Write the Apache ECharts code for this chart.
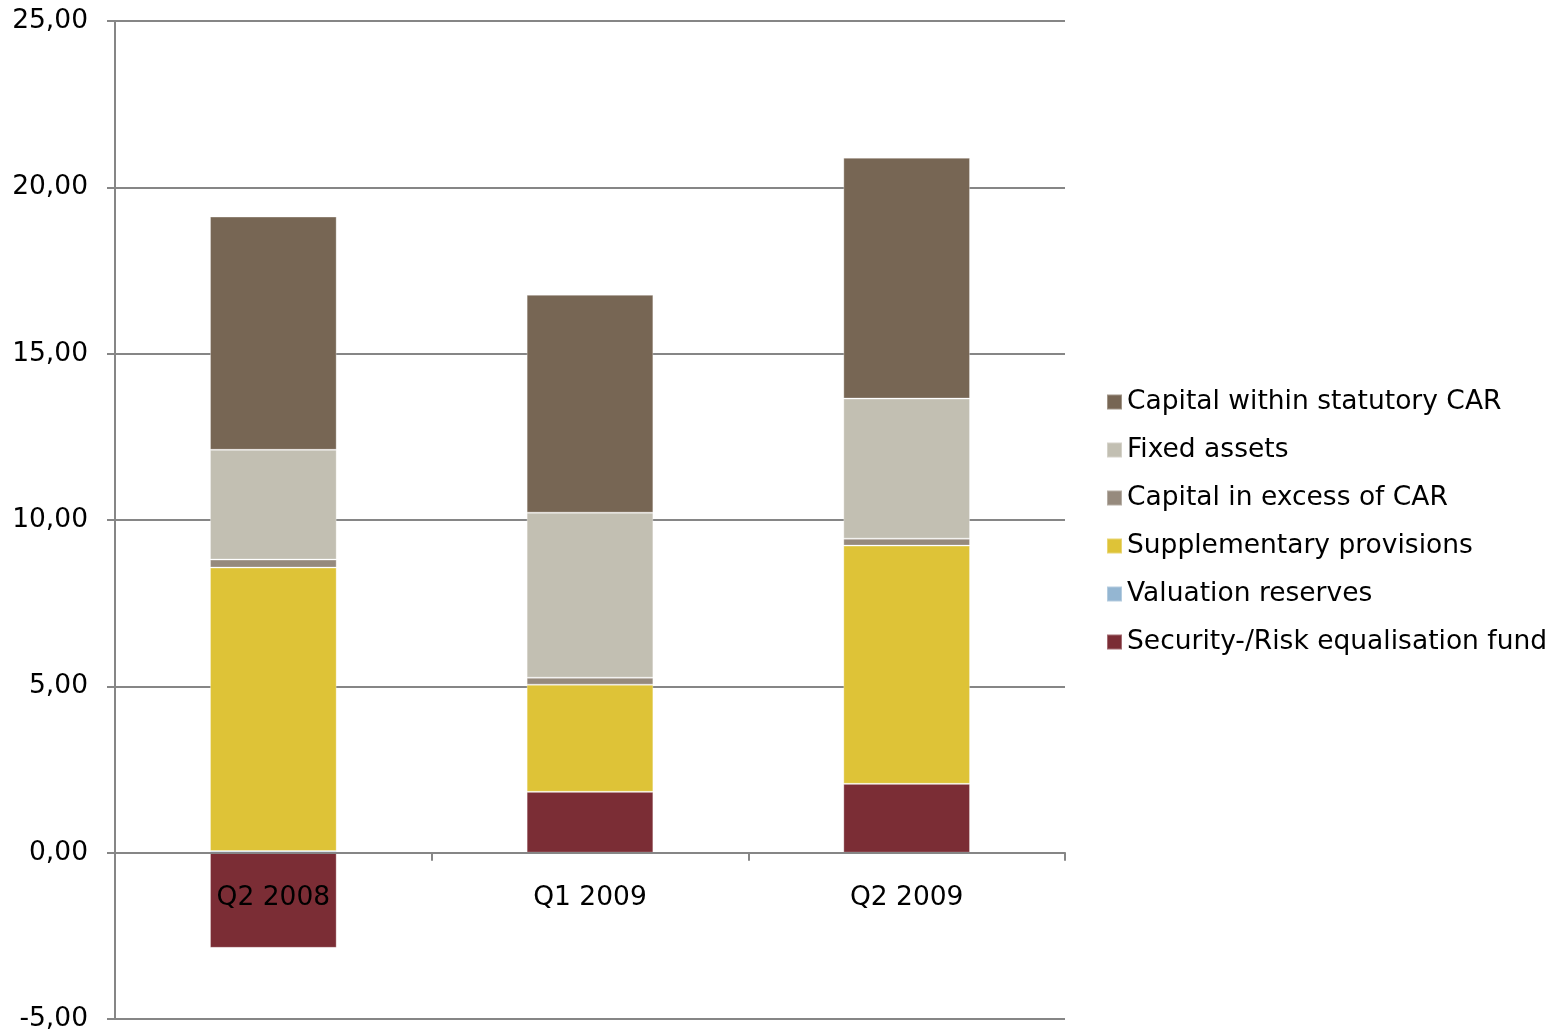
<!DOCTYPE html>
<html>
<head>
<meta charset="utf-8">
<script src="https://cdn.jsdelivr.net/npm/echarts@6/dist/echarts.min.js"></script>
<style>
  html, body { margin: 0; padding: 0; background: #fff; }
  #chart { width: 1568px; height: 1036px; }
</style>
</head>
<body>
<div id="chart"></div>
<script>
// Quarters on the category axis
const categories = ['Q2 2008', 'Q1 2009', 'Q2 2009'];

// Stacked components (bottom to top)
const securityFund   = [-2.86, 1.83, 2.07];
const valuationRes   = [0.05, 0.00, 0.00];
const supplementary  = [8.52, 3.22, 7.16];
const excessCapital  = [0.24, 0.21, 0.21];
const fixedAssets    = [3.30, 4.96, 4.21];
const capitalWithin  = [7.01, 6.55, 7.24];

const seriesNames = [
  'Security-/Risk equalisation fund',
  'Valuation reserves',
  'Supplementary provisions',
  'Capital in excess of CAR',
  'Fixed assets',
  'Capital within statutory CAR'
];
const seriesData = [securityFund, valuationRes, supplementary, excessCapital, fixedAssets, capitalWithin];
const seriesColors = ['#7B2D35', '#94B6D2', '#DEC337', '#968A7D', '#C2BFB2', '#776654'];

const FONT = 'DejaVu Sans, Verdana, sans-serif';
const FS = 26.5;

const chart = echarts.init(document.getElementById('chart'), null, { renderer: 'canvas' });

chart.setOption({
  backgroundColor: '#ffffff',
  animation: false,
  textStyle: { fontFamily: FONT },
  grid: { left: 115, right: 503, top: 21, bottom: 17, containLabel: false, outerBoundsMode: 'none' },
  legend: {
    orient: 'vertical',
    left: 1101,
    top: 382,
    itemWidth: 15,
    itemHeight: 15,
    itemGap: 18,
    icon: 'rect',
    data: seriesNames.slice().reverse(),
    textStyle: { fontFamily: FONT, fontSize: FS, color: '#000', lineHeight: 30 }
  },
  xAxis: [
    {
      // axis line and ticks, sitting on the zero line
      type: 'category',
      data: categories,
      z: 5,
      axisLine: { onZero: true, lineStyle: { color: '#868686', width: 2 } },
      axisTick: { show: true, length: 8, alignWithLabel: false, lineStyle: { color: '#868686', width: 2 } },
      axisLabel: { show: false },
      splitLine: { show: false }
    },
    {
      // category labels just below the zero line, drawn above the bars
      type: 'category',
      data: categories,
      position: 'bottom',
      offset: -166,
      z: 6,
      axisLine: { show: false, onZero: false },
      axisTick: { show: false },
      axisLabel: { fontFamily: FONT, fontSize: FS, color: '#000', margin: 32 },
      splitLine: { show: false }
    }
  ],
  yAxis: {
    type: 'value',
    min: -5,
    max: 25,
    interval: 5,
    axisLine: { show: true, lineStyle: { color: '#868686', width: 2 } },
    axisTick: { show: true, length: 8, lineStyle: { color: '#868686', width: 2 } },
    axisLabel: {
      fontFamily: FONT, fontSize: FS, color: '#000', margin: 27,
      padding: [5, 0, 0, 0],
      formatter: v => v.toFixed(2).replace('.', ',')
    },
    splitLine: { show: true, lineStyle: { color: '#868686', width: 2 } }
  },
  series: seriesNames.map((name, i) => ({
    name,
    type: 'bar',
    stack: 'total',
    barWidth: '40%',
    xAxisIndex: 0,
    data: seriesData[i],
    itemStyle: {
      color: seriesColors[i],
      borderColor: 'rgba(255,255,255,0.3)',
      borderWidth: 1
    },
    emphasis: { disabled: true }
  }))
});
</script>
</body>
</html>
